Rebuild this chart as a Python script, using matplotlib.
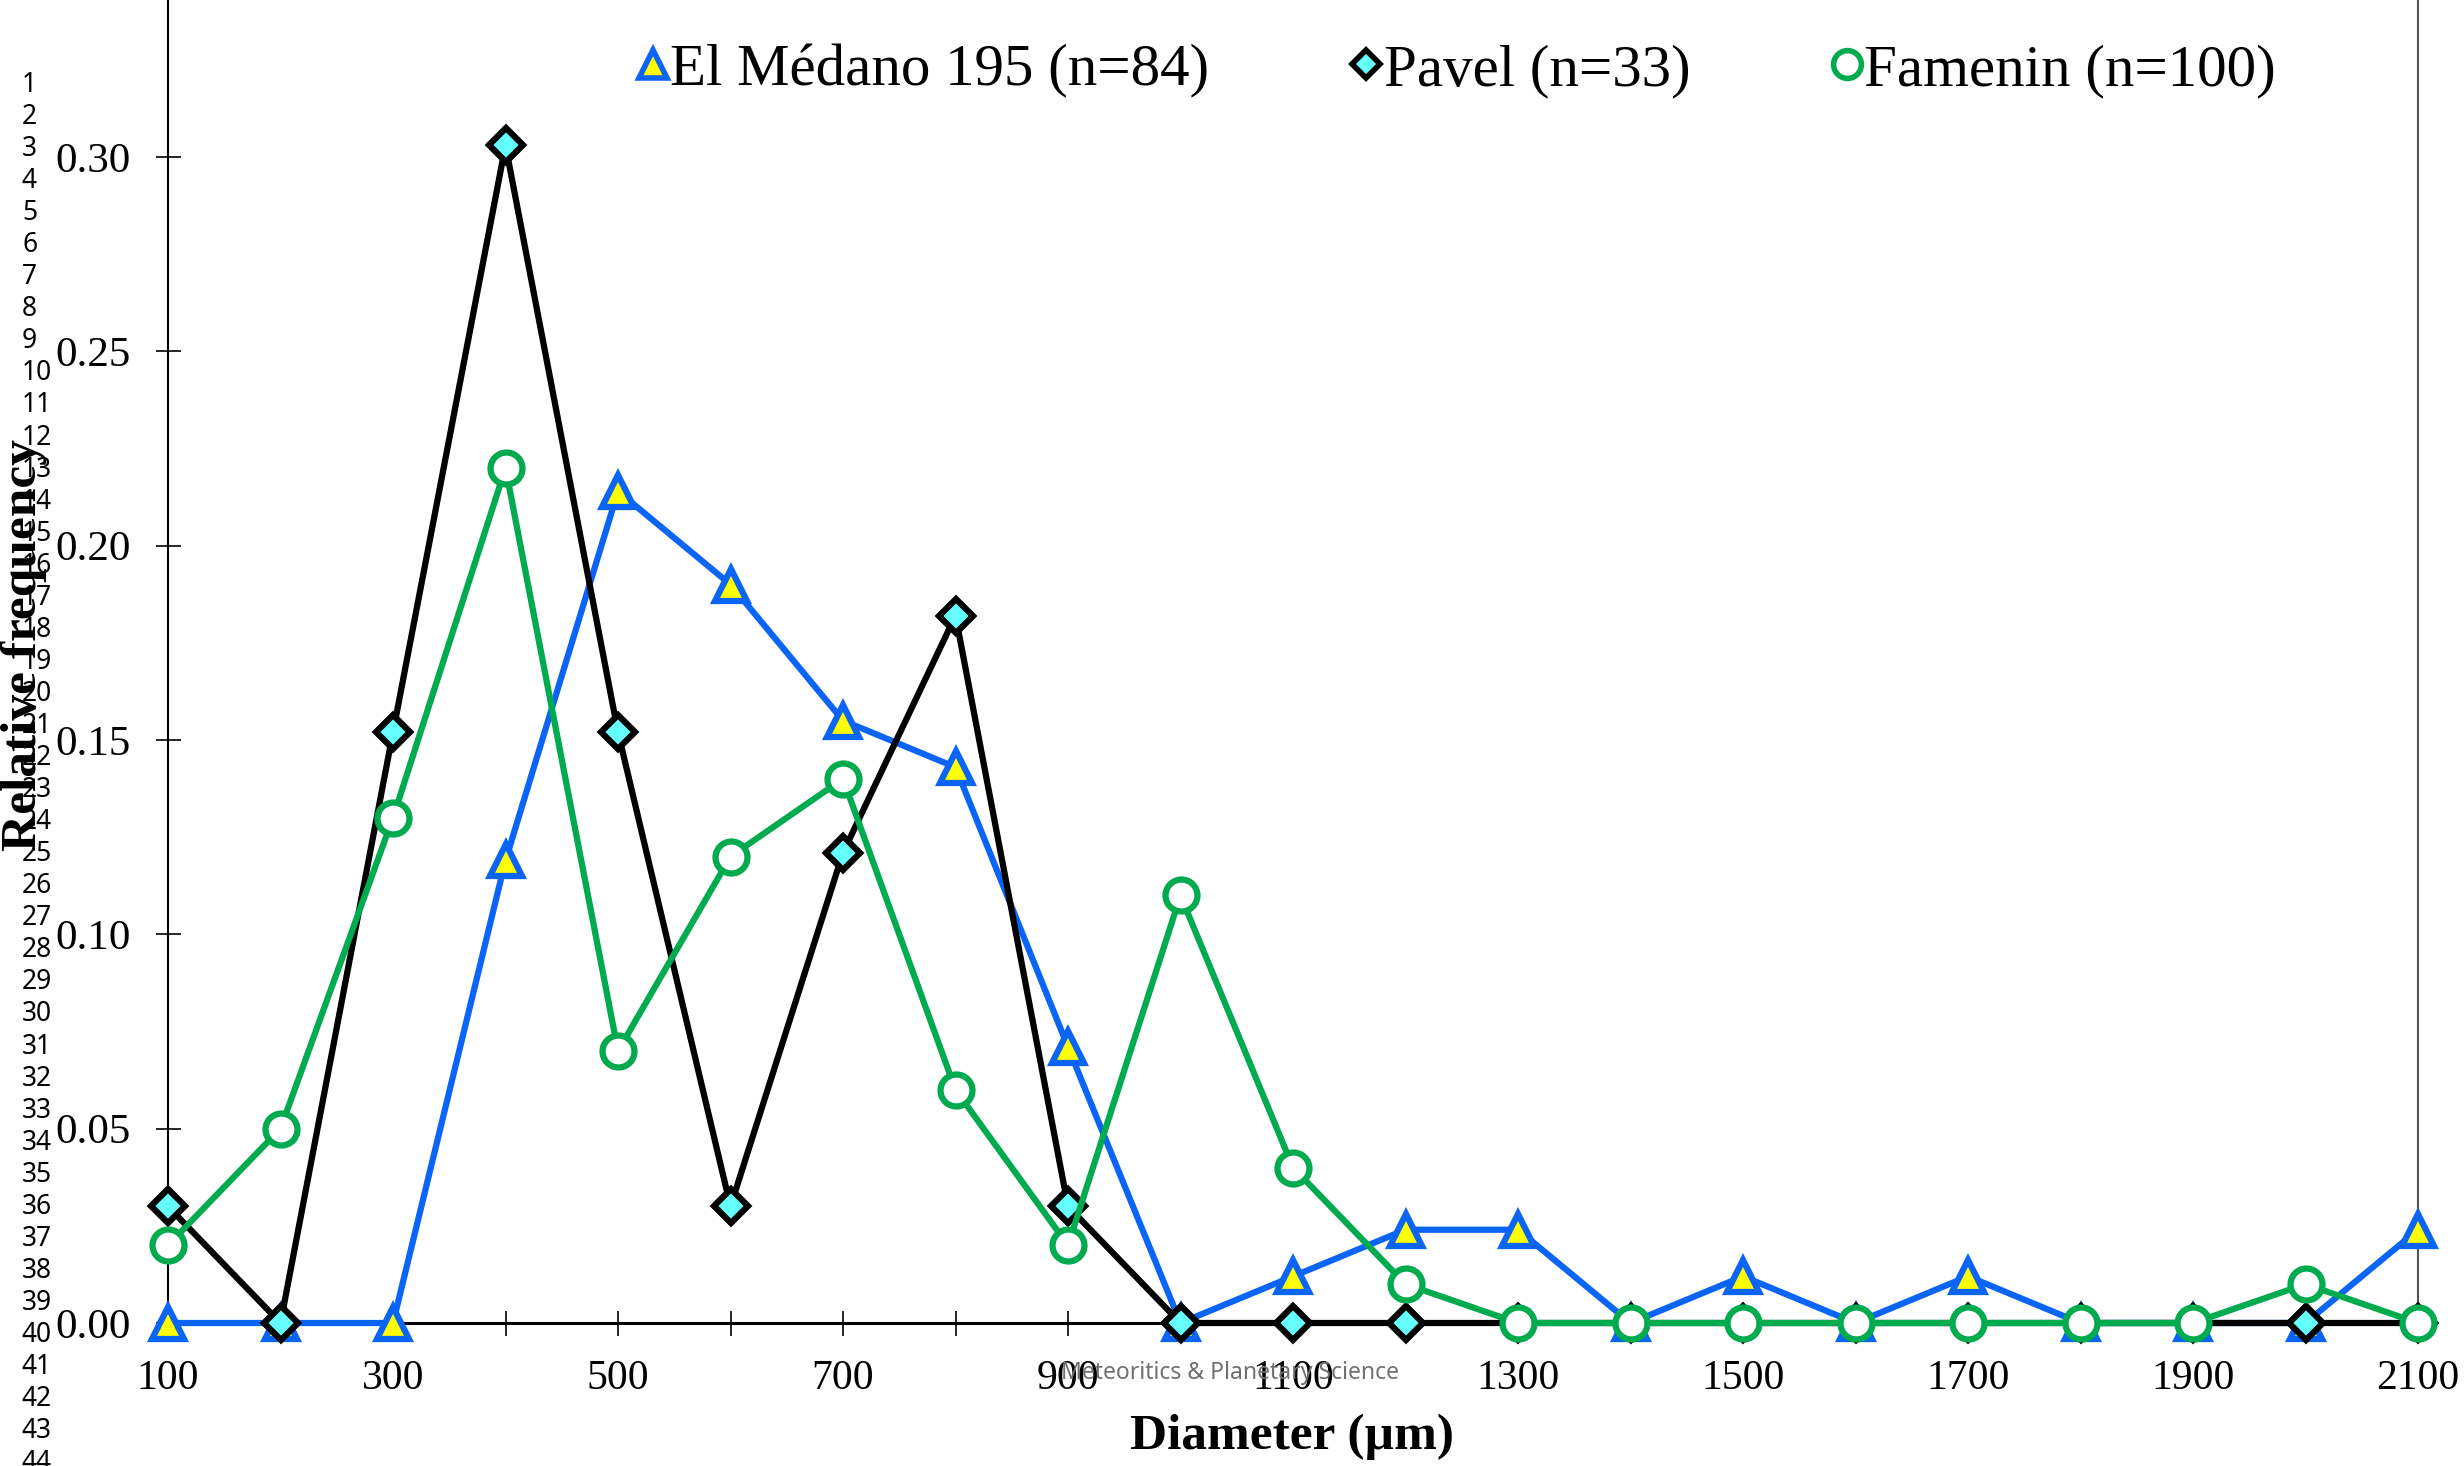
import matplotlib
matplotlib.use("Agg")
import matplotlib.pyplot as plt
from matplotlib.lines import Line2D
import numpy as np

# ---- data ----
diameters = [100, 200, 300, 400, 500, 600, 700, 800, 900, 1000, 1100,
             1200, 1300, 1400, 1500, 1600, 1700, 1800, 1900, 2000, 2100]
el_medano = [0.0, 0.0, 0.0, 0.119, 0.214, 0.190, 0.155, 0.143, 0.071, 0.0, 0.012,
             0.024, 0.024, 0.0, 0.012, 0.0, 0.012, 0.0, 0.0, 0.0, 0.024]
pavel = [0.030, 0.0, 0.152, 0.303, 0.152, 0.030, 0.121, 0.182, 0.030, 0.0, 0.0,
         0.0, 0.0, 0.0, 0.0, 0.0, 0.0, 0.0, 0.0, 0.0, 0.0]
famenin = [0.02, 0.05, 0.13, 0.22, 0.07, 0.12, 0.14, 0.06, 0.02, 0.11, 0.04,
           0.01, 0.0, 0.0, 0.0, 0.0, 0.0, 0.0, 0.0, 0.01, 0.0]
series_labels = ["El Médano 195 (n=84)", "Pavel (n=33)", "Famenin (n=100)"]
yticks = [0.00, 0.05, 0.10, 0.15, 0.20, 0.25, 0.30]
xtick_labels = ["100", "300", "500", "700", "900", "1100", "1300", "1500", "1700", "1900", "2100"]
line_numbers = list(range(1, 45))

W, H = 2464, 1466
fig = plt.figure(figsize=(W / 100, H / 100), dpi=100)
ax = fig.add_axes([168 / W, 1 - 1323 / H, (2418 - 168) / W, 1323 / H])

serif = "Liberation Serif"
blue = "#0A64F5"
green = "#00AA4F"

ax.plot(diameters, el_medano, color=blue, lw=4.5, marker="^", ms=23,
        mfc="#FFFF00", mec=blue, mew=4.5, clip_on=False, zorder=3)
ax.plot(diameters, pavel, color="black", lw=4.5, marker="D", ms=17,
        mfc="#66FFFF", mec="black", mew=4.5, clip_on=False, zorder=4)
ax.plot(diameters, famenin, color=green, lw=4.5, marker="o", ms=23,
        mfc="white", mec=green, mew=4.5, clip_on=False, zorder=5)

ax.set_xlim(100, 2100)
ax.set_ylim(0, 1323 / ((1323 - 157) / 0.30))

ax.set_xticks(diameters)
labels_all = []
for d in diameters:
    s = str(d)
    labels_all.append(s if s in xtick_labels else "")
ax.set_xticklabels(labels_all, fontfamily=serif, fontsize=30)
ax.set_yticks(yticks)
ax.set_yticklabels([f"{v:.2f}" for v in yticks], fontfamily=serif, fontsize=31)
ax.tick_params(axis="both", direction="inout", length=18, width=1.2, color="black")
ax.tick_params(axis="x", pad=17)
ax.tick_params(axis="y", pad=18)

ax.spines["top"].set_visible(False)
ax.spines["right"].set_color("#555555")
ax.spines["right"].set_linewidth(1.5)
ax.spines["left"].set_linewidth(1.5)
ax.spines["bottom"].set_linewidth(2.2)
ax.spines["bottom"].set_zorder(2)

fig.text(1292 / W, 1 - 1437 / H, "Diameter (µm)", fontfamily=serif, fontsize=37,
         fontweight="bold", ha="center", va="center")
fig.text(24 / W, 1 - 645 / H, "Relative frequency", fontfamily=serif, fontsize=37,
         fontweight="bold", ha="center", va="center", rotation=90)

handles = [
    Line2D([], [], ls="none", marker="^", ms=20, mfc="#FFFF00", mec=blue, mew=4),
    Line2D([], [], ls="none", marker="D", ms=14, mfc="#66FFFF", mec="black", mew=4),
    Line2D([], [], ls="none", marker="o", ms=20, mfc="white", mec=green, mew=4),
]
fig.legend(handles, series_labels, loc="center", bbox_to_anchor=(1457 / W, 1 - 71 / H),
           ncol=3, frameon=False, prop={"family": serif, "size": 42.5},
           handlelength=0.5, handletextpad=0.05, columnspacing=2.4, borderpad=0)

for n in line_numbers:
    fig.text(22 / W, 1 - (85 + 32.05 * (n - 1)) / H, str(n), fontfamily="Noto Sans",
             fontsize=19, ha="left", va="center", color="black")

fig.text(1230 / W, 1 - 1373 / H, "Meteoritics & Planetary Science", fontfamily="Noto Sans",
         fontsize=16.5, ha="center", va="center", color="#707070", zorder=10)

fig.savefig("out.png", dpi=100)
